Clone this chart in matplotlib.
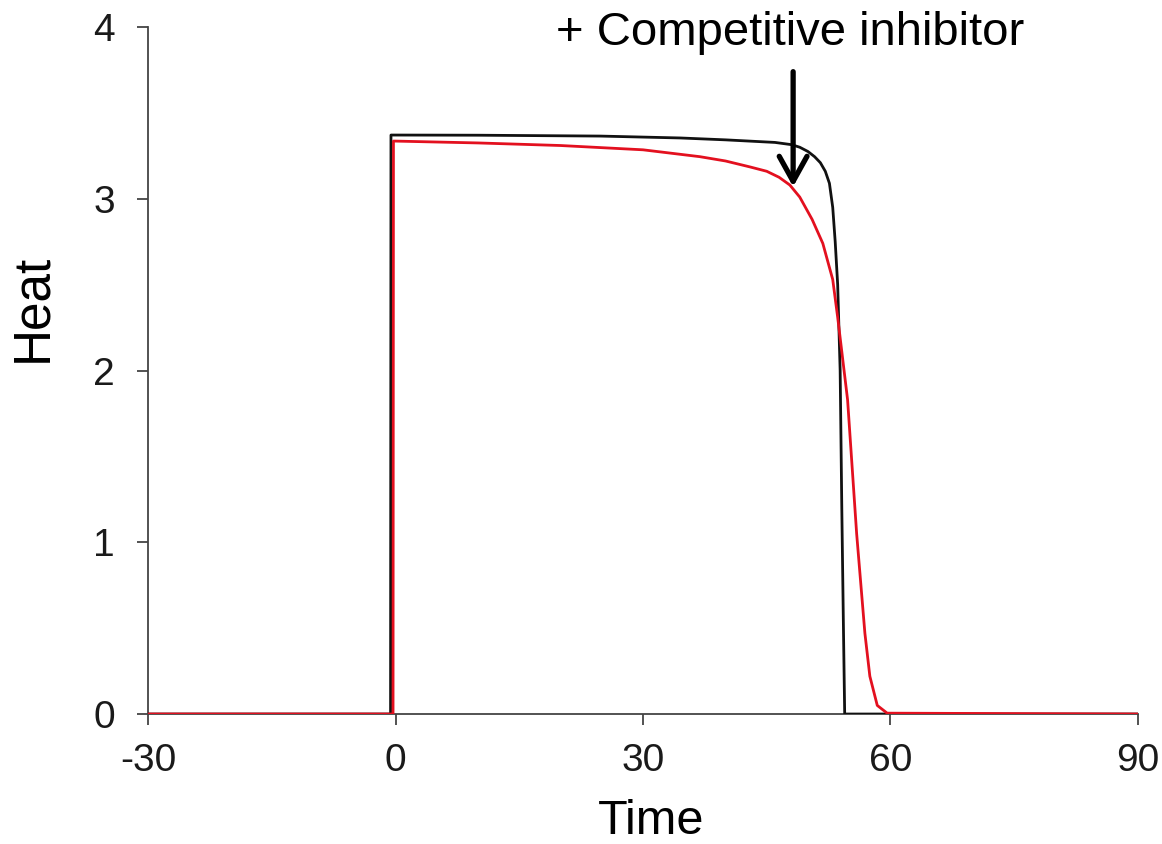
import matplotlib.pyplot as plt

# Heat vs time, control (black) and + competitive inhibitor (red)
black_t = [-30, -0.6, -0.55, 10, 24.8, 34.5, 40, 44, 46, 48, 49, 50, 50.8, 51.5,
           52.1, 52.6, 53.0, 53.3, 53.6, 53.9, 54.1, 54.3, 54.45, 90]
black_heat = [0, 0, 3.371, 3.370, 3.365, 3.354, 3.343, 3.333, 3.328, 3.315, 3.30, 3.275,
              3.245, 3.21, 3.16, 3.09, 2.95, 2.75, 2.50, 2.00, 1.20, 0.50, 0, 0]

red_t = [-30, -0.3, -0.25, 10, 20, 30, 36.9, 40, 43, 45, 46.5, 47.8, 49.0, 50.5,
         51.8, 53.0, 53.6, 54.8, 55.9, 56.9, 57.5, 58.4, 59.6, 90]
red_heat = [0, 0, 3.336, 3.325, 3.31, 3.285, 3.245, 3.22, 3.185, 3.16, 3.125, 3.08, 3.01, 2.88,
            2.74, 2.53, 2.31, 1.83, 1.05, 0.47, 0.22, 0.05, 0.005, 0]

x_ticks = [-30, 0, 30, 60, 90]
y_ticks = [0, 1, 2, 3, 4]

plt.rcParams['font.family'] = ['Liberation Sans', 'DejaVu Sans']

fig = plt.figure(figsize=(11.62, 8.44), dpi=100)
ax = fig.add_axes([0.1274, 0.154, 0.8519, 0.814])

ax.plot(black_t, black_heat, color='#111111', lw=2.0, zorder=3)
ax.plot(red_t, red_heat, color='#e3101f', lw=2.0, zorder=4)

ax.set_xlim(-30, 90)
ax.set_ylim(0, 4)
ax.set_xticks(x_ticks)
ax.set_yticks(y_ticks)
ax.set_xticklabels([str(v) for v in x_ticks])
ax.set_yticklabels([str(v) for v in y_ticks])

for s in ['top', 'right']:
    ax.spines[s].set_visible(False)
for s in ['left', 'bottom']:
    ax.spines[s].set_color('#444444')
    ax.spines[s].set_linewidth(1.3)
    ax.spines[s].set_zorder(2)

ax.tick_params(axis='both', direction='out', length=8, width=1.3,
               color='#444444', labelsize=28, labelcolor='#1a1a1a')
ax.tick_params(axis='y', pad=16)
ax.tick_params(axis='x', pad=13)

# axis labels
fig.text(0.0284, 0.635, 'Heat', rotation=90, fontsize=37, ha='center', va='center')
fig.text(0.560, 0.0, 'Time', fontsize=35, ha='center', va='bottom')

# annotation
ax.text(47.8, 3.895, '+ Competitive inhibitor', fontsize=34, ha='center', va='baseline')
ax.annotate('', xy=(48.2, 3.07), xytext=(48.2, 3.74),
            arrowprops=dict(arrowstyle='->,head_length=0.9,head_width=0.5',
                            mutation_scale=20, lw=3.8, color='black',
                            shrinkA=0, shrinkB=0),
            zorder=5)

fig.savefig('out.png', dpi=100)
